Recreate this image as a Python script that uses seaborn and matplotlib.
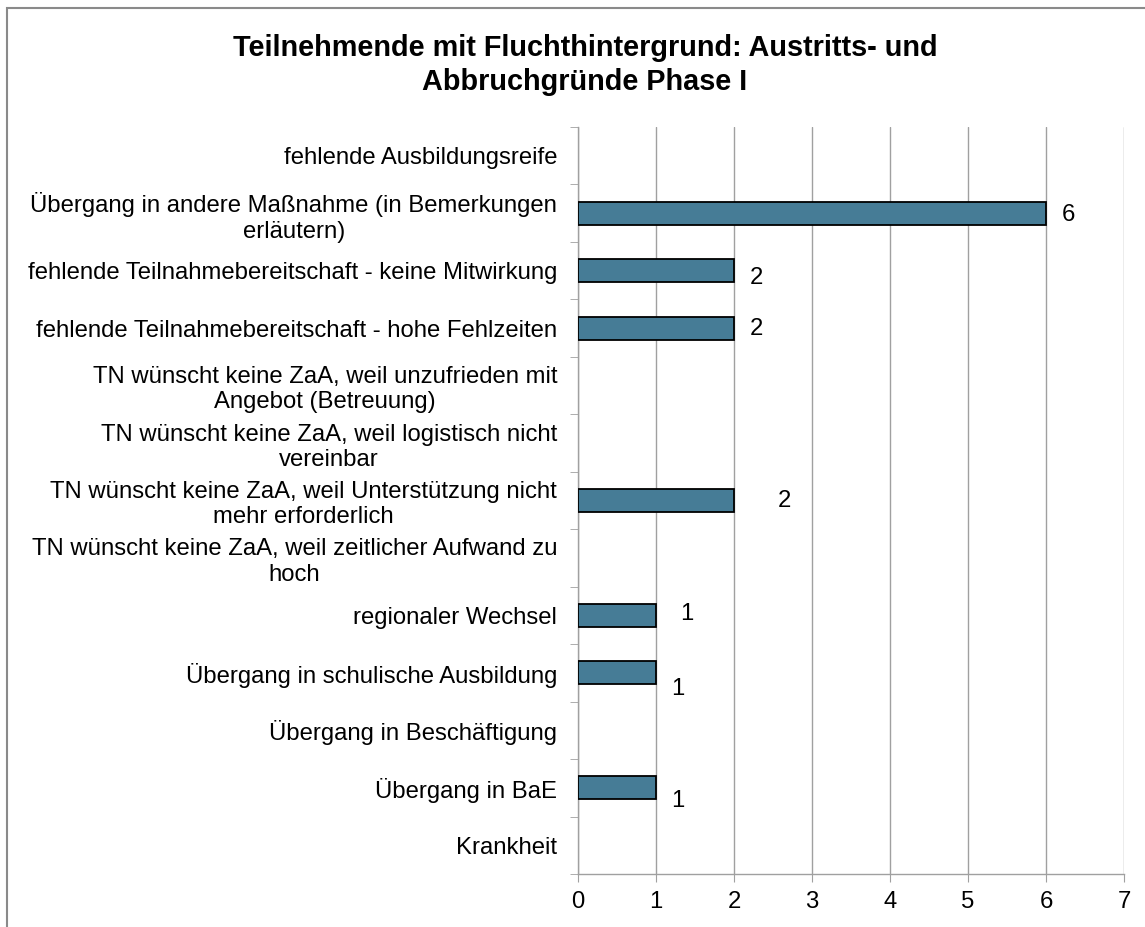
import pandas as pd
import matplotlib.pyplot as plt
import seaborn as sns
from matplotlib.patches import Rectangle
from matplotlib.ticker import FixedLocator

# Austritts- und Abbruchgründe (von oben nach unten)
gruende = [
    'fehlende Ausbildungsreife',
    'Übergang in andere Maßnahme (in Bemerkungen\nerläutern)',
    'fehlende Teilnahmebereitschaft - keine Mitwirkung',
    'fehlende Teilnahmebereitschaft - hohe Fehlzeiten',
    'TN wünscht keine ZaA, weil unzufrieden mit\nAngebot (Betreuung)',
    'TN wünscht keine ZaA, weil logistisch nicht\nvereinbar',
    'TN wünscht keine ZaA, weil Unterstützung nicht\nmehr erforderlich',
    'TN wünscht keine ZaA, weil zeitlicher Aufwand zu\nhoch',
    'regionaler Wechsel',
    'Übergang in schulische Ausbildung',
    'Übergang in Beschäftigung',
    'Übergang in BaE',
    'Krankheit',
]
anzahl = [0, 6, 2, 2, 0, 0, 2, 0, 1, 1, 0, 1, 0]
x_ticks = [0, 1, 2, 3, 4, 5, 6, 7]

df = pd.DataFrame({'Grund': gruende, 'Anzahl': anzahl})

sns.set_style('white')
plt.rcParams['font.family'] = ['Liberation Sans', 'DejaVu Sans']
plt.rcParams['text.color'] = 'black'
plt.rcParams['xtick.color'] = 'black'
plt.rcParams['ytick.color'] = 'black'

fs = 17.2

fig = plt.figure(figsize=(11.45, 9.27), dpi=100)
ax = fig.add_axes([0.5048, 0.0572, 0.4769, 0.8058])

sns.barplot(data=df, x='Anzahl', y='Grund', orient='h', color='#467c96',
            saturation=1, width=0.4, edgecolor='black', linewidth=1.3, ax=ax, zorder=3)

# keine Umrandung für leere Balken
for p in ax.patches:
    if p.get_width() == 0:
        p.set_linewidth(0)

# Datenbeschriftungen (leicht versetzt wie im Original)
offsets = {1: (22, -2), 2: (22, -7), 3: (22, -1), 6: (50, -1), 8: (31, 1), 9: (22, -16), 11: (22, -13)}
for i, v in enumerate(anzahl):
    if v > 0:
        dx, dy = offsets.get(i, (22, 0))
        ax.annotate(str(v), (v, i), xytext=(dx, dy), textcoords='offset pixels',
                    ha='center', va='center', fontsize=fs, color='black')

ax.set_xlim(0, 7)
ax.set_ylim(len(gruende) - 0.5, -0.5)
ax.set_xticks(x_ticks)
ax.set_xlabel('')
ax.set_ylabel('')

ax.grid(axis='x', color='#a0a0a0', linewidth=1, zorder=0)
ax.grid(axis='y', visible=False)
for s in ['top', 'right']:
    ax.spines[s].set_visible(False)
for s in ['left', 'bottom']:
    ax.spines[s].set_color('#a0a0a0')
    ax.spines[s].set_linewidth(1)

ax.tick_params(axis='x', length=6, color='#a0a0a0', labelcolor='black', labelsize=fs, pad=6, bottom=True)
ax.tick_params(axis='y', which='major', length=0, labelcolor='black', labelsize=fs, pad=15)
ax.yaxis.set_minor_locator(FixedLocator([i - 0.5 for i in range(len(gruende) + 1)]))
ax.tick_params(axis='y', which='minor', length=6, color='#a0a0a0', left=True)
for lab in ax.get_yticklabels():
    lab.set_multialignment('center')

fig.text(0.511, 0.930, 'Teilnehmende mit Fluchthintergrund: Austritts- und\nAbbruchgründe Phase I',
         ha='center', va='center', fontsize=20.8, fontweight='bold', linespacing=1.25, color='black')

# Rahmen des Diagrammbereichs
fig.patches.append(Rectangle((7 / 1145, -0.1), 1.2, 1.1 - 8 / 927, transform=fig.transFigure,
                             fill=False, edgecolor='#8a8a8a', linewidth=1.5))

fig.savefig('out.png', dpi=100)
